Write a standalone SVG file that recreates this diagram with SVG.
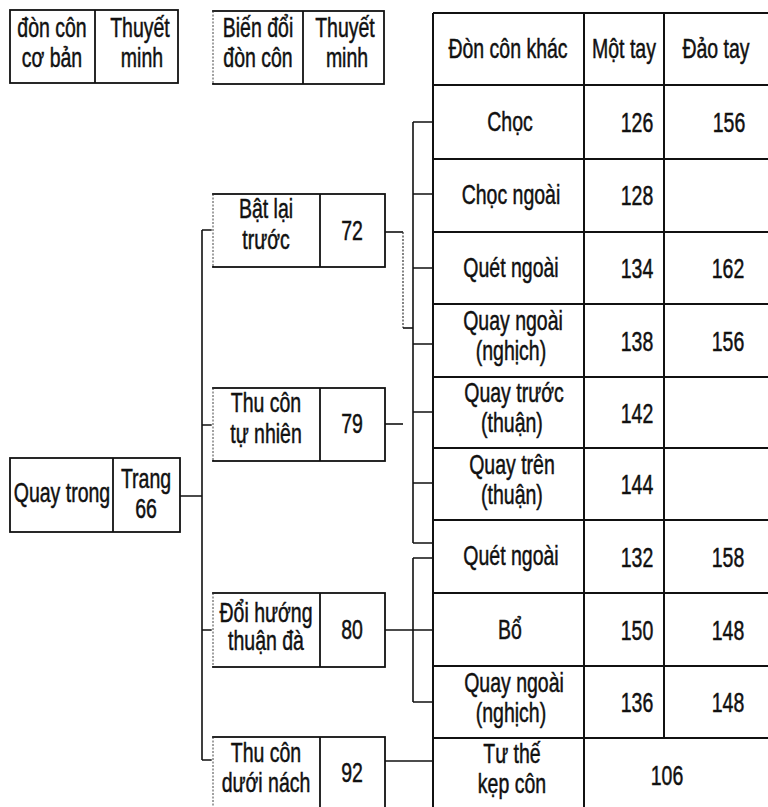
<svg xmlns="http://www.w3.org/2000/svg" width="768" height="807" viewBox="0 0 768 807">
<style>
  text { font-family: "Liberation Sans", Arial, sans-serif; font-size: 19.5px; fill: #111; stroke: #111; stroke-width: 0.35; text-anchor: middle; transform-box: fill-box; transform-origin: center; transform: scaleY(1.38); }
  .box { fill: #fff; stroke: #111; stroke-width: 1.8; }
  .div { stroke: #111; stroke-width: 1.8; }
  .mask { stroke: #fff; stroke-width: 2.6; }
  .dot { stroke: #444; stroke-width: 1; stroke-dasharray: 2 1.5; }
  .grid { stroke: #111; stroke-width: 2; fill: none; }
  .conn { stroke: #111; stroke-width: 1.6; fill: none; }
  .dconn { stroke: #333; stroke-width: 1.2; fill: none; stroke-dasharray: 2 1.5; }
</style>
<rect width="768" height="807" fill="#fff"/>

<g id="connectors">
  <path class="conn" d="M180 496 H202 M202 230 V760 M202 230 H213 M202 425 H213 M202 630 H213 M202 760 H213"/>
  <path class="conn" d="M385 232 H403"/>
  <path class="dconn" d="M403 232 V328"/>
  <path class="conn" d="M403 328 H413"/>
  <path class="conn" d="M385 424 H403"/>
  <path class="conn" d="M413 122 V543 M413 122 H433 M413 194 H433 M413 268 H433 M413 344 H433 M413 412 H433 M413 483 H433 M413 543 H433"/>
  <path class="conn" d="M413 558 V702 M413 558 H433 M413 702 H433"/>
  <path class="conn" d="M385 630 H433"/>
  <path class="conn" d="M385 761 H433"/>
</g>

<g id="header-co-ban">
  <rect class="box" x="10" y="10" width="168" height="73"/>
  <line class="div" x1="95" y1="10" x2="95" y2="83"/>
  <text x="52" y="34">đòn côn</text>
  <text x="52" y="64">cơ bản</text>
  <text x="140" y="34">Thuyết</text>
  <text x="142" y="64">minh</text>
</g>

<g id="header-bien-doi">
  <rect class="box" x="213" y="11" width="171" height="73"/>
  <line class="mask" x1="213" y1="12" x2="213" y2="83"/>
  <line class="dot" x1="213" y1="11" x2="213" y2="84"/>
  <line class="div" x1="303" y1="11" x2="303" y2="84"/>
  <text x="258" y="34">Biến đổi</text>
  <text x="258" y="64">đòn côn</text>
  <text x="345" y="34">Thuyết</text>
  <text x="347" y="64">minh</text>
</g>

<g id="node-quay-trong">
  <rect class="box" x="10" y="458" width="170" height="74"/>
  <line class="div" x1="113" y1="458" x2="113" y2="532"/>
  <text x="62" y="499">Quay trong</text>
  <text x="146" y="485">Trang</text>
  <text x="146" y="515">66</text>
</g>

<g id="node-bat-lai-truoc">
  <rect class="box" x="213" y="194" width="172" height="73"/>
  <line class="mask" x1="213" y1="195" x2="213" y2="266"/>
  <line class="dot" x1="213" y1="194" x2="213" y2="267"/>
  <line class="div" x1="320" y1="194" x2="320" y2="267"/>
  <text x="266" y="215">Bật lại</text>
  <text x="266" y="246">trước</text>
  <text x="352" y="237">72</text>
</g>

<g id="node-thu-con-tu-nhien">
  <rect class="box" x="213" y="388" width="172" height="73"/>
  <line class="mask" x1="213" y1="389" x2="213" y2="460"/>
  <line class="dot" x1="213" y1="388" x2="213" y2="461"/>
  <line class="div" x1="320" y1="388" x2="320" y2="461"/>
  <text x="266" y="409">Thu côn</text>
  <text x="266" y="440">tự nhiên</text>
  <text x="352" y="430">79</text>
</g>

<g id="node-doi-huong-thuan-da">
  <rect class="box" x="213" y="593" width="172" height="74"/>
  <line class="mask" x1="213" y1="594" x2="213" y2="666"/>
  <line class="dot" x1="213" y1="593" x2="213" y2="667"/>
  <line class="div" x1="320" y1="593" x2="320" y2="667"/>
  <text x="266" y="619">Đổi hướng</text>
  <text x="266" y="647">thuận đà</text>
  <text x="352" y="636">80</text>
</g>

<g id="node-thu-con-duoi-nach">
  <rect class="box" x="213" y="737" width="172" height="80"/>
  <line class="mask" x1="213" y1="738" x2="213" y2="807"/>
  <line class="dot" x1="213" y1="737" x2="213" y2="807"/>
  <line class="div" x1="320" y1="737" x2="320" y2="807"/>
  <text x="266" y="759">Thu côn</text>
  <text x="266" y="789">dưới nách</text>
  <text x="352" y="779">92</text>
</g>

<g id="table-don-con-khac">
  <path class="grid" d="M433 13 V807 M584 13 V807 M664 13 V738
    M433 13 H768 M433 85 H768 M433 159 H768 M433 232 H768 M433 304 H768 M433 377 H768
    M433 448 H768 M433 520 H768 M433 593 H768 M433 666 H768 M433 738 H768"/>
  <text x="508" y="55">Đòn côn khác</text>
  <text x="624" y="55">Một tay</text>
  <text x="716" y="55">Đảo tay</text>

  <text x="510" y="128">Chọc</text>
  <text x="637" y="129">126</text>
  <text x="729" y="129">156</text>

  <text x="511" y="201">Chọc ngoài</text>
  <text x="637" y="202">128</text>

  <text x="511" y="274">Quét ngoài</text>
  <text x="637" y="275">134</text>
  <text x="728" y="275">162</text>

  <text x="513" y="327">Quay ngoài</text>
  <text x="511" y="357">(nghịch)</text>
  <text x="637" y="348">138</text>
  <text x="728" y="348">156</text>

  <text x="514" y="399">Quay trước</text>
  <text x="512" y="429">(thuận)</text>
  <text x="637" y="420">142</text>

  <text x="512" y="471">Quay trên</text>
  <text x="512" y="501">(thuận)</text>
  <text x="637" y="491">144</text>

  <text x="511" y="562">Quét ngoài</text>
  <text x="637" y="564">132</text>
  <text x="728" y="564">158</text>

  <text x="510" y="636">Bổ</text>
  <text x="637" y="637">150</text>
  <text x="728" y="637">148</text>

  <text x="514" y="689">Quay ngoài</text>
  <text x="511" y="719">(nghịch)</text>
  <text x="637" y="709">136</text>
  <text x="728" y="709">148</text>

  <text x="512" y="760">Tư thế</text>
  <text x="512" y="790">kẹp côn</text>
  <text x="667" y="782">106</text>
</g>
</svg>
